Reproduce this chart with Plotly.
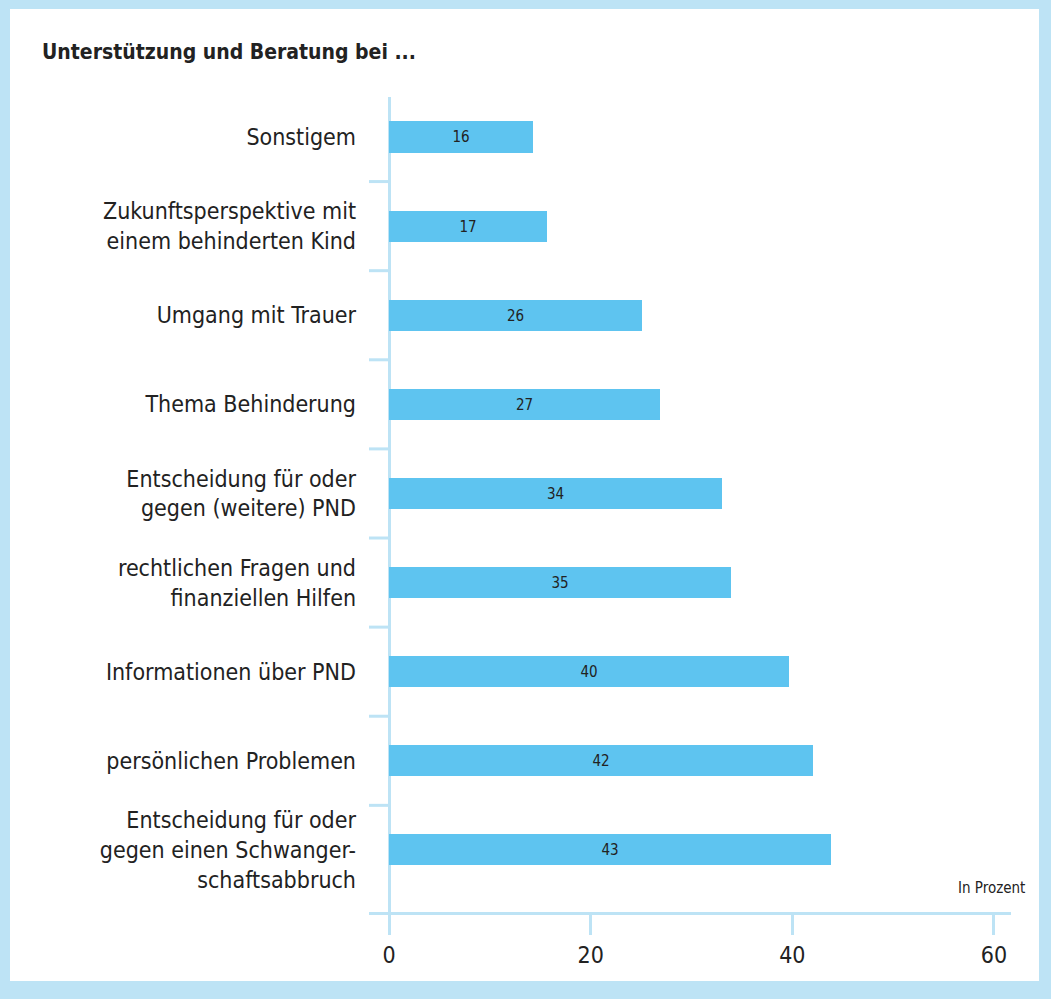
import plotly.graph_objects as go

# categories from top to bottom
categories = [
    "Sonstigem",
    "Zukunftsperspektive mit<br>einem behinderten Kind",
    "Umgang mit Trauer",
    "Thema Behinderung",
    "Entscheidung für oder<br>gegen (weitere) PND",
    "rechtlichen Fragen und<br>finanziellen Hilfen",
    "Informationen über PND",
    "persönlichen Problemen",
    "Entscheidung für oder<br>gegen einen Schwanger-<br>schaftsabbruch",
]
# bar lengths as drawn in the picture, and the printed values
bar_lengths = [14.3, 15.7, 25.1, 26.9, 33.0, 33.9, 39.7, 42.1, 43.8]
printed_values = [16, 17, 26, 27, 34, 35, 40, 42, 43]
x_ticks = [0, 20, 40, 60]

FONT = "Liberation Sans Narrow, DejaVu Sans Condensed, Roboto, sans-serif"
FRAME = "#bde3f5"
AXIS = "#bde3f5"
BAR = "#5ec4f0"
TEXT = "#222222"

W, H = 1051, 999
L, R, T, B = 369, 40, 97, 87
plot_w = W - L - R
plot_h = H - T - B

x_range = [-2.0, 61.7]
y_range = [8.697, -0.449]
pos = list(range(len(categories)))

fig = go.Figure()
fig.add_trace(go.Bar(
    x=bar_lengths,
    y=pos,
    orientation="h",
    width=0.35,
    marker=dict(color=BAR, line=dict(width=0)),
    text=[str(v) for v in printed_values],
    textposition="inside",
    insidetextanchor="middle",
    textangle=0,
    textfont=dict(family=FONT, size=15, color=TEXT),
    hoverinfo="skip",
))

shapes = [
    # white card over the light blue frame
    dict(type="rect", xref="paper", yref="paper", layer="below",
         x0=(10 - L) / plot_w, x1=(1039 - L) / plot_w,
         y0=(T + plot_h - 981) / plot_h, y1=(T + plot_h - 9) / plot_h,
         fillcolor="white", line=dict(width=0)),
]
# separator ticks between categories
for i in range(len(categories) - 1):
    shapes.append(dict(type="line", xref="x", yref="y",
                       x0=-2.0, x1=0, y0=i + 0.5, y1=i + 0.5,
                       line=dict(color=AXIS, width=3)))

fig.update_layout(
    width=W, height=H,
    margin=dict(l=L, r=R, t=T, b=B, pad=0),
    paper_bgcolor=FRAME,
    plot_bgcolor="rgba(0,0,0,0)",
    showlegend=False,
    bargap=0,
    shapes=shapes,
    font=dict(family=FONT, color=TEXT),
    xaxis=dict(
        range=x_range,
        tickvals=x_ticks,
        ticktext=[str(t) for t in x_ticks],
        ticks="outside", ticklen=20, tickwidth=3, tickcolor=AXIS,
        showline=True, linecolor=AXIS, linewidth=3,
        showgrid=False,
        zeroline=True, zerolinecolor=AXIS, zerolinewidth=3,
        tickfont=dict(family=FONT, size=23, color=TEXT),
        fixedrange=True,
    ),
    yaxis=dict(
        range=y_range,
        tickvals=pos,
        ticktext=categories,
        ticks="", showline=False, showgrid=False, zeroline=False,
        ticklabelstandoff=12,
        tickfont=dict(family=FONT, size=23, color=TEXT),
        fixedrange=True,
    ),
    annotations=[
        dict(text="<b>Unterstützung und Beratung bei ...</b>",
             xref="paper", yref="paper",
             x=(40 - L) / plot_w, y=(T + plot_h - 52) / plot_h,
             xanchor="left", yanchor="middle", showarrow=False,
             font=dict(family=FONT, size=21, color=TEXT)),
        dict(text="In Prozent",
             xref="paper", yref="paper",
             x=(1027 - L) / plot_w, y=(T + plot_h - 888) / plot_h,
             xanchor="right", yanchor="middle", showarrow=False,
             font=dict(family=FONT, size=15, color=TEXT)),
    ],
)

# drop the default page margin so the figure sits at the window's corner
fig.write_html("out.html", config={"displayModeBar": False},
               post_script="document.body.style.margin='0px';")
